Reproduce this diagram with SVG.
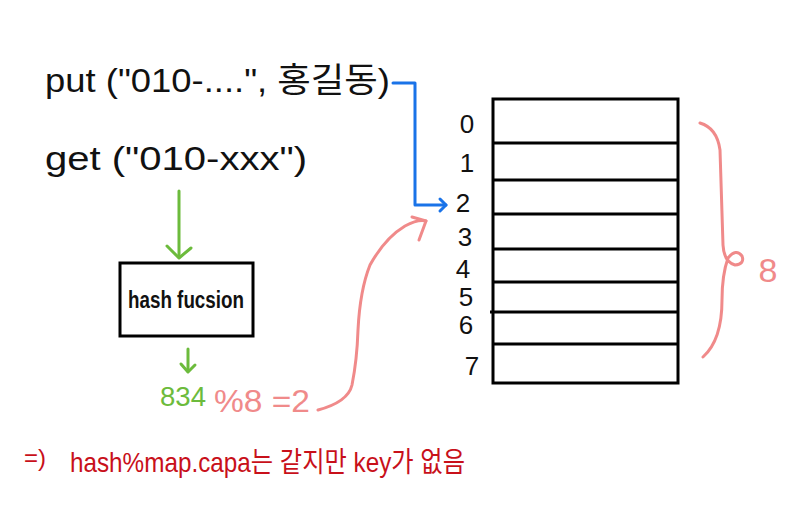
<svg xmlns="http://www.w3.org/2000/svg" width="800" height="529" viewBox="0 0 800 529">
<style>
.hand{font-family:"Liberation Sans","Noto Sans CJK KR",sans-serif;}
.blk{fill:#111;}
.grn{fill:#6cbb3c;}
.pnk{fill:#f08a8a;}
.red{fill:#c8101a;}
.idx{font-size:26px;fill:#111;text-anchor:middle;}
.g{stroke:#6cbb3c;stroke-width:3;fill:none;stroke-linecap:round;stroke-linejoin:round;}
.b{stroke:#1a73e8;stroke-width:3;fill:none;stroke-linecap:round;stroke-linejoin:round;}
.p{stroke:#f08a8a;stroke-width:3;fill:none;stroke-linecap:round;stroke-linejoin:round;}
.box{fill:none;stroke:#000;stroke-width:3;}
</style>
<rect width="800" height="529" fill="#fff"/>

<g id="put-call">
<text class="hand blk" x="45" y="92" font-size="34" textLength="345" lengthAdjust="spacingAndGlyphs">put ("010-....", 홍길동)</text>
</g>
<g id="get-call">
<text class="hand blk" x="45" y="170" font-size="34" textLength="262" lengthAdjust="spacingAndGlyphs">get ("010-xxx")</text>
</g>

<g id="hash-function">
<rect class="box" x="120" y="263" width="133" height="73"/>
<text class="hand blk" x="186" y="308" font-size="23" font-weight="bold" text-anchor="middle" textLength="116" lengthAdjust="spacingAndGlyphs">hash fucsion</text>
</g>

<g id="hash-result">
<text class="hand grn" x="160" y="406" font-size="28" textLength="46" lengthAdjust="spacingAndGlyphs">834</text>
<text class="hand pnk" x="214" y="412" font-size="32" textLength="96" lengthAdjust="spacingAndGlyphs">%8 =2</text>
</g>

<g id="bucket-array">
<rect class="box" x="493" y="99" width="185" height="284"/>
<g stroke="#000" stroke-width="3">
<line x1="492" y1="143" x2="678" y2="143"/>
<line x1="492" y1="180" x2="678" y2="180"/>
<line x1="493" y1="214" x2="678" y2="214"/>
<line x1="493" y1="249" x2="678" y2="249"/>
<line x1="493" y1="282" x2="678" y2="282"/>
<line x1="490" y1="312" x2="678" y2="312"/>
<line x1="493" y1="344" x2="678" y2="344"/>
</g>
<text class="hand idx" x="467" y="133">0</text>
<text class="hand idx" x="467" y="172">1</text>
<text class="hand idx" x="463" y="212">2</text>
<text class="hand idx" x="465" y="246">3</text>
<text class="hand idx" x="463" y="278">4</text>
<text class="hand idx" x="466" y="306" font-size="20">5</text>
<text class="hand idx" x="466" y="334">6</text>
<text class="hand idx" x="472" y="375">7</text>
</g>

<g id="size-brace">
<path class="p" d="M700,123 Q717,128 720,150 L723,245 Q724,262 735,265 Q745,264 742,256 Q736,248 728,258 Q722,275 722,300 Q722,340 703,357"/>
<text class="hand pnk" x="768" y="282" font-size="34" text-anchor="middle">8</text>
</g>

<g id="note">
<text class="hand red" x="24" y="466" font-size="24">=)</text>
<text class="hand red" x="70" y="472" font-size="28" textLength="395" lengthAdjust="spacingAndGlyphs">hash%map.capa는 같지만 key가 없음</text>
</g>

<g id="connectors">
<path class="g" d="M179,191 L179,257"/>
<path class="g" d="M167,246 L179,258 L191,248"/>
<path class="g" d="M188,349 L188,371"/>
<path class="g" d="M181,364 L188,372 L195,365"/>
<path class="b" d="M393,83 L415,83 L415,205 L446,205"/>
<path class="b" d="M440,199 L446,205 L440,211"/>
<path class="p" d="M318,410 Q348,402 352,385 Q357,360 358,330 Q360,290 370,265 Q385,238 405,226 Q418,219 426,221"/>
<path class="p" d="M412,217 L426,221 L419,240"/>
</g>
</svg>
